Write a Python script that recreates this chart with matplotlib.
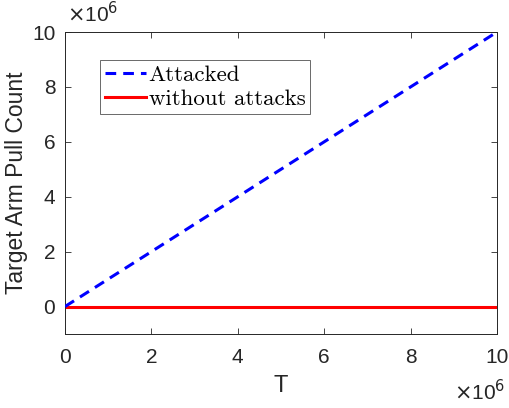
import matplotlib
matplotlib.use("Agg")
import matplotlib.pyplot as plt
import numpy as np

# Data
T = [0, 2e6, 4e6, 6e6, 8e6, 10e6]
attacked = [0, 2e6, 4e6, 6e6, 8e6, 10e6]
without_attacks = [0, 0, 0, 0, 0, 0]
series_labels = ["Attacked", "without attacks"]
x_ticks = [0, 2, 4, 6, 8, 10]
y_ticks = [0, 2, 4, 6, 8, 10]

plt.rcParams['font.family'] = ['Liberation Sans', 'DejaVu Sans']
tc = '#262626'

fig = plt.figure(figsize=(5.1, 4.08), dpi=100)
ax = fig.add_axes([65/510, 1-334/408, (497-65)/510, (334-32)/408])

ax.plot(T, attacked, color='#0000ff', lw=2.2, ls=(0, (3.5, 2.3)), label=series_labels[0], zorder=3)
ax.plot(T, without_attacks, color='#ff0000', lw=2.2, label=series_labels[1], zorder=2)

ax.set_xlim(0, 1e7)
ax.set_ylim(-1e6, 1e7)
ax.set_xticks([v*1e6 for v in x_ticks])
ax.set_xticklabels([str(v) for v in x_ticks])
ax.set_yticks([v*1e6 for v in y_ticks])
ax.set_yticklabels([str(v) for v in y_ticks])

ax.tick_params(direction='in', length=4, width=0.6, top=True, right=True,
               labelsize=15, colors=tc, pad=7)
ax.tick_params(axis='x', pad=10)
for s in ax.spines.values():
    s.set_color(tc)
    s.set_linewidth(0.7)

ax.set_xlabel('T', fontsize=17, color=tc, labelpad=6)
ax.set_ylabel('Target Arm Pull Count', fontsize=16.5, color=tc, labelpad=3)

fig.text(67/510, 1-14/408, r'$\times$10$^{6}$', fontsize=15, color=tc,
         ha='left', va='center')
fig.text(505/510, 1-392/408, r'$\times$10$^{6}$', fontsize=15, color=tc,
         ha='right', va='center')

leg = ax.legend(loc='upper left', bbox_to_anchor=(0.081, 0.907),
                prop={'family': 'cmr10', 'size': 16.5}, frameon=True, fancybox=False,
                borderpad=0.2, handlelength=1.8, handletextpad=0.12,
                labelspacing=0.2, borderaxespad=0)
leg.get_frame().set_edgecolor('#262626')
leg.get_frame().set_linewidth(0.6)

fig.savefig('out.png', dpi=100)
